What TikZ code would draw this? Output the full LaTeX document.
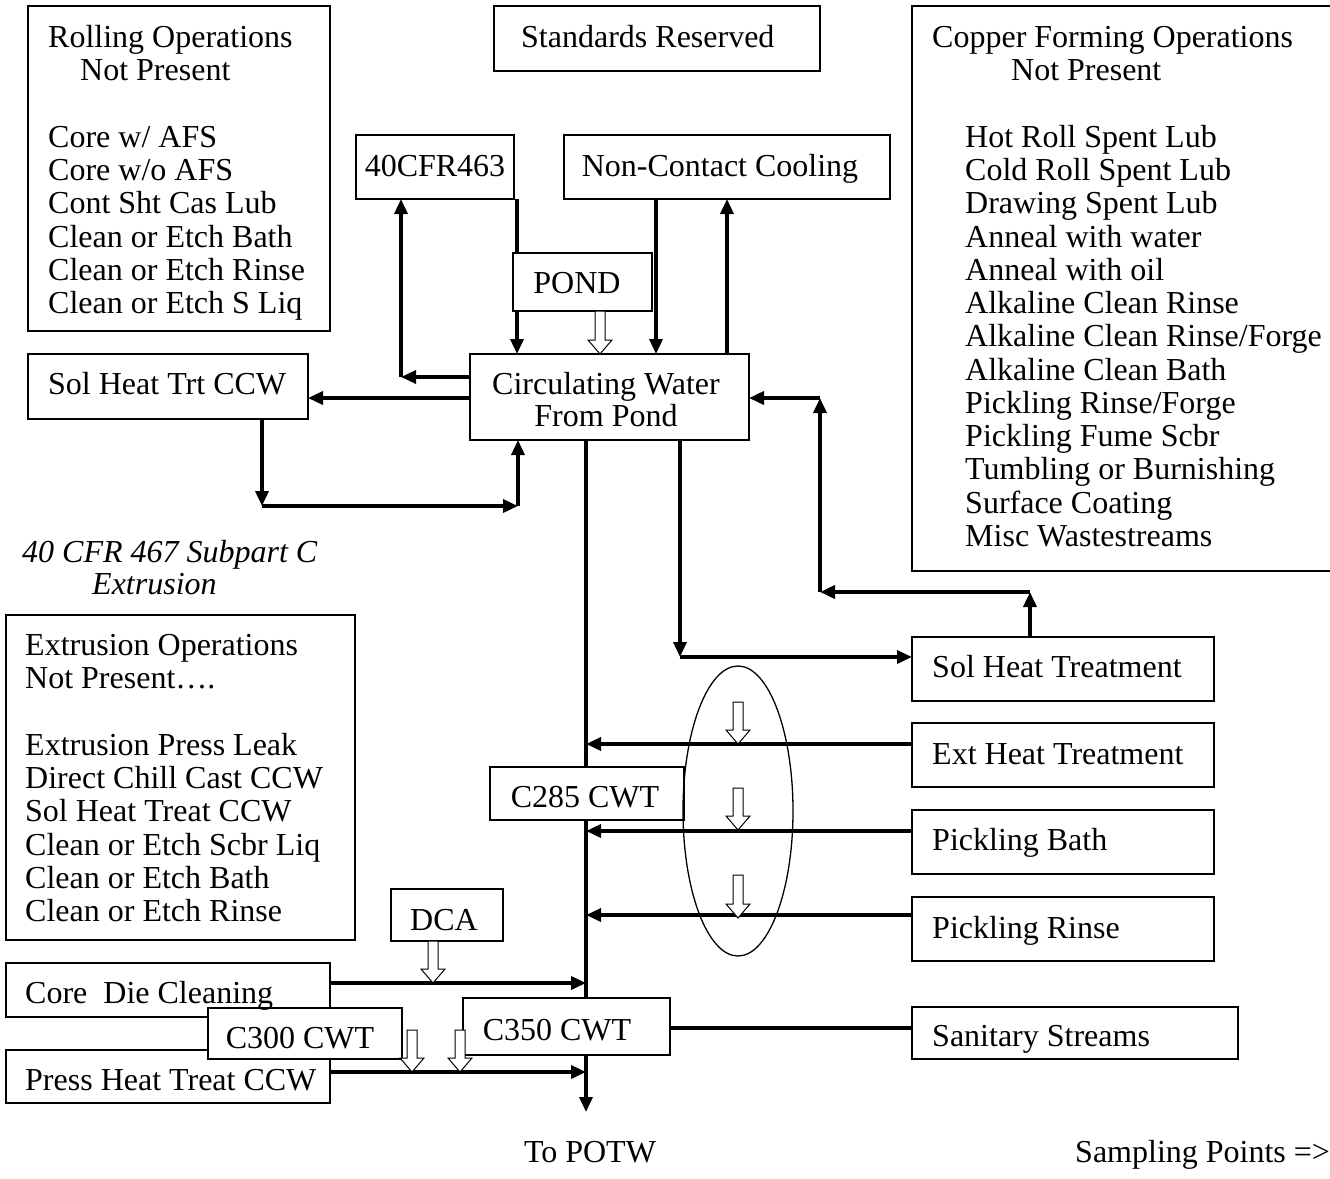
\documentclass[tikz,border=0pt]{standalone}
\usepackage{fontspec}
\setmainfont{Liberation Serif}
\usetikzlibrary{arrows.meta,shapes.geometric,calc}
\pgfdeclarelayer{background}
\pgfsetlayers{background,main}
\tikzset{
  box/.style={draw=black, line width=1.3pt, fill=white, inner sep=0pt, outer sep=0pt, anchor=north west},
  txt/.style={inner sep=0pt, anchor=north west, align=left, font=\fontsize{32}{33.25}\selectfont},
  ctxt/.style={txt, anchor=north, align=center},
  conn/.style={line width=3.5pt, -{Triangle[length=15pt,width=13pt]}},
  plainline/.style={line width=3.5pt},
  hollow/.style={draw=black, line width=1pt, fill=white},
}
\newcommand\hollowarr[2]{\draw[hollow] let \p1=(#1), \p2=(#2) in
  (\x1-5pt,\y1) -- (\x1+5pt,\y1) -- (\x1+5pt,\y2+14pt) -- (\x1+12pt,\y2+14pt)
  -- (\x1,\y2) -- (\x1-12pt,\y2+14pt) -- (\x1-5pt,\y2+14pt) -- cycle;}
\newcommand\st{\rule{0pt}{26pt}}
\begin{document}
\begin{tikzpicture}[x=1pt,y=-1pt]
\useasboundingbox (0,0) rectangle (1330,1178);
% boxes
\node[box, minimum width=302, minimum height=325] (rolling) at (28,6) {};
\node[box, minimum width=326, minimum height=65] (standards) at (494,6) {};
\node[box, minimum width=422, minimum height=565] (copper) at (912,6) {};
\node[box, minimum width=158, minimum height=64] (c463) at (356,135) {};
\node[box, minimum width=326, minimum height=64] (ncc) at (564,135) {};
\node[box, minimum width=279, minimum height=86] (circ) at (470,354) {};
\node[box, minimum width=280, minimum height=65] (solccw) at (28,354) {};
\node[box, minimum width=349, minimum height=325] (extops) at (6,615) {};
\node[box, minimum width=302, minimum height=64] (sht) at (912,637) {};
\node[box, minimum width=302, minimum height=64] (eht) at (912,723) {};
\node[box, minimum width=302, minimum height=64] (pb) at (912,810) {};
\node[box, minimum width=302, minimum height=64] (pr) at (912,897) {};
\node[box, minimum width=326, minimum height=52] (san) at (912,1007) {};
\node[box, minimum width=112, minimum height=52] (dca) at (391,889) {};
\node[box, minimum width=324, minimum height=54] (cdc) at (6,963) {};
\node[box, minimum width=324, minimum height=53] (phc) at (6,1050) {};
\coordinate (trunk) at (586,440);
\coordinate (j401) at (401,377);
\coordinate (j262) at (262,506);
\coordinate (j518) at (518,506);
\coordinate (j680) at (680,657);
\coordinate (j1030) at (1030,592);
\coordinate (j820a) at (820,592);
\coordinate (j820b) at (820,398);
\coordinate (potw) at (586,1112);
% connectors (behind the boxes)
\begin{pgfonlayer}{background}
\draw[conn] (c463.south -| 517,0) -- (circ.north -| 517,0);
\draw[conn] (trunk) -- (potw);
\end{pgfonlayer}
\node[box, minimum width=139, minimum height=58] (pond) at (513,253) {};
\node[box, minimum width=194, minimum height=53] (c285) at (490,767) {};
\node[box, minimum width=194, minimum height=51] (c300) at (208,1008) {};
\node[box, minimum width=207, minimum height=57] (c350) at (463,998) {};
% other connectors
\draw[conn] (ncc.south -| 656,0) -- (circ.north -| 656,0);
\draw[conn] (circ.north -| 727,0) -- (ncc.south -| 727,0);
\draw[conn] (circ.west |- j401) -- (j401);
\draw[conn] (j401) -- (c463.south -| j401);
\draw[conn] (circ.west |- 0,398) -- (solccw.east |- 0,398);
\draw[conn] (solccw.south -| j262) -- (j262);
\draw[conn] (j262) -- (j518);
\draw[conn] (j518) -- (circ.south -| j518);
\draw[conn] (circ.south -| j680) -- (j680);
\draw[conn] (j680) -- (sht.west |- j680);
\draw[conn] (sht.north -| j1030) -- (j1030);
\draw[conn] (j1030) -- (j820a);
\draw[conn] (j820a) -- (j820b);
\draw[conn] (j820b) -- (circ.east |- j820b);
\draw[conn] (eht.west |- 0,744) -- (trunk |- 0,744);
\draw[conn] (pb.west |- 0,831) -- (trunk |- 0,831);
\draw[conn] (pr.west |- 0,915) -- (trunk |- 0,915);
\draw[conn] (cdc.east |- 0,983) -- (trunk |- 0,983);
\draw[conn] (phc.east |- 0,1072) -- (trunk |- 0,1072);
\draw[plainline] (c350.east |- 0,1028) -- (san.west |- 0,1028);
% sampling ellipse and hollow arrows
\node[draw=black, line width=1.3pt, ellipse, minimum width=110, minimum height=290, inner sep=0pt] (ell) at (738,811) {};
\hollowarr{pond.south -| 600,0}{circ.north -| 600,0}
\hollowarr{dca.south -| 433,0}{433,983}
\hollowarr{412,1030}{412,1072}
\hollowarr{460,1030}{460,1072}
\hollowarr{738,702}{738,744}
\hollowarr{738,788}{738,830}
\hollowarr{738,875}{738,918}
% texts
\node[txt] (trolling) at (48,21.5) {\st Rolling Operations\\\hspace{32pt}Not Present\\[0pt]\\Core w/ AFS\\Core w/o AFS\\Cont Sht Cas Lub\\Clean or Etch Bath\\Clean or Etch Rinse\\Clean or Etch S Liq};
\node[txt] (tstandards) at (521,21.5) {\st Standards Reserved};
\node[txt] (tcopper) at (932,21.5) {\st Copper Forming Operations\\\hspace{79pt}Not Present\\\\
\hspace{33pt}Hot Roll Spent Lub\\\hspace{33pt}Cold Roll Spent Lub\\\hspace{33pt}Drawing Spent Lub\\
\hspace{33pt}Anneal with water\\\hspace{33pt}Anneal with oil\\\hspace{33pt}Alkaline Clean Rinse\\
\hspace{33pt}Alkaline Clean Rinse/Forge\\\hspace{33pt}Alkaline Clean Bath\\\hspace{33pt}Pickling Rinse/Forge\\
\hspace{33pt}Pickling Fume Scbr\\\hspace{33pt}Tumbling or Burnishing\\\hspace{33pt}Surface Coating\\\hspace{33pt}Misc Wastestreams};
\node[ctxt] (t463) at (435,150.5) {\st 40CFR463};
\node[ctxt] (tncc) at (720,150.5) {\st Non-Contact Cooling};
\node[ctxt] (tpond) at (577,267.5) {\st POND};
\node[ctxt, font=\fontsize{32}{32}\selectfont] (tcirc) at (606,368.5) {\st Circulating Water\\From Pond};
\node[txt] (tsolccw) at (48,368.5) {\st Sol Heat Trt CCW};
\node[txt, font=\fontsize{32}{32}\itshape] (tsub) at (22,536.5) {\st 40 CFR 467 Subpart C\\\hspace{70pt}Extrusion};
\node[txt] (textops) at (25,629.5) {\st Extrusion Operations\\Not Present….\\\\Extrusion Press Leak\\Direct Chill Cast CCW\\Sol Heat Treat CCW\\Clean or Etch Scbr Liq\\Clean or Etch Bath\\Clean or Etch Rinse};
\node[txt] (tsht) at (932,651.5) {\st Sol Heat Treatment};
\node[txt] (teht) at (932,738.5) {\st Ext Heat Treatment};
\node[txt] (tpb) at (932,824.5) {\st Pickling Bath};
\node[txt] (tpr) at (932,912.5) {\st Pickling Rinse};
\node[txt] (tsan) at (932,1020.5) {\st Sanitary Streams};
\node[ctxt] (tc285) at (585,781.5) {\st C285 CWT};
\node[ctxt] (tdca) at (444,904.5) {\st DCA};
\node[txt] (tcdc) at (25,977.5) {\st Core\ \ Die Cleaning};
\node[ctxt] (tc300) at (300,1022.5) {\st C300 CWT};
\node[ctxt] (tc350) at (557,1014.5) {\st C350 CWT};
\node[txt] (tphc) at (25,1064.5) {\st Press Heat Treat CCW};
\node[ctxt] (tpotw) at (590,1136.5) {\st To POTW};
\node[txt] (tsamp) at (1075,1136.5) {\st Sampling Points =>};
\end{tikzpicture}
\end{document}
